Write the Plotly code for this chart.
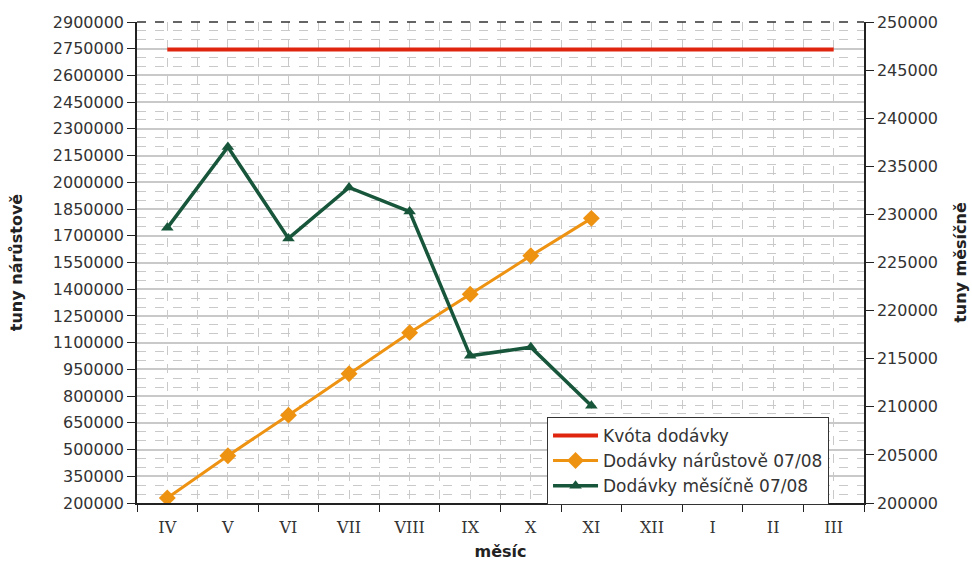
import plotly.graph_objects as go

# Months of the delivery year (April to March)
months = ["IV", "V", "VI", "VII", "VIII", "IX", "X", "XI", "XII", "I", "II", "III"]

# Delivery quota (tonnes), constant over the year
quota = [2745000] * 12

# Monthly deliveries 07/08 (tonnes), known up to November
monthly = [228600, 237000, 227500, 232800, 230300, 215300, 216200, 210100]

# Cumulative deliveries 07/08 (tonnes)
cumulative = []
total = 0
for v in monthly:
    total += v
    cumulative.append(total)

x_all = list(range(len(months)))
x_known = x_all[:len(monthly)]

RED = "#e0250f"
ORANGE = "#ee9212"
GREEN = "#17563a"
FONT = "DejaVu Sans"
TXT = "#333333"

fig = go.Figure()

fig.add_trace(go.Scatter(
    x=x_all, y=quota, name="Kvóta dodávky", mode="lines",
    line=dict(color=RED, width=4), yaxis="y",
))
fig.add_trace(go.Scatter(
    x=x_known, y=cumulative, name="Dodávky nárůstově 07/08", mode="lines+markers",
    line=dict(color=ORANGE, width=3),
    marker=dict(symbol="diamond", size=13, color=ORANGE), yaxis="y",
))
fig.add_trace(go.Scatter(
    x=x_known, y=monthly, name="Dodávky měsíčně 07/08", mode="lines+markers",
    line=dict(color=GREEN, width=3.5),
    marker=dict(symbol="triangle-up", size=11, color=GREEN), yaxis="y2",
))

grid = "#c9c9c9"

fig.update_layout(
    width=972, height=563,
    margin=dict(l=137, r=108, t=22, b=60),
    paper_bgcolor="white", plot_bgcolor="white",
    font=dict(family=FONT, size=16, color=TXT),
    showlegend=True,
    legend=dict(
        x=0.564, y=0.179, xanchor="left", yanchor="top",
        bgcolor="white", bordercolor="#333333", borderwidth=1,
        font=dict(family=FONT, size=17, color=TXT),
        tracegroupgap=0, itemwidth=45,
    ),
    xaxis=dict(
        range=[-0.5, 11.5], automargin=False,
        tickmode="array", tickvals=x_all, ticktext=months,
        ticks="outside", ticklen=9, tickcolor="rgba(0,0,0,0)",
        showline=True, linecolor="#222222", linewidth=1.5,
        showgrid=True, gridcolor=grid, griddash="dash", gridwidth=1,
        tickfont=dict(family="DejaVu Serif", size=16, color=TXT),
        title=dict(text="<b>měsíc</b>", font=dict(family=FONT, size=16, color="#222222"), standoff=10),
        minor=dict(tick0=0.5, dtick=1, ticks="outside", ticklen=7, tickcolor="#222222",
                   showgrid=True, gridcolor=grid, griddash="dash", gridwidth=1),
        zeroline=False,
    ),
    yaxis=dict(
        range=[200000, 2900000], tick0=200000, dtick=150000, automargin=False,
        showline=True, linecolor="#222222", linewidth=1.5,
        ticks="outside", ticklen=8, tickcolor="#222222",
        showgrid=True, gridcolor=grid, gridwidth=1.5,
        minor=dict(dtick=50000, tick0=200000, showgrid=True, gridcolor=grid, griddash="dash", gridwidth=1),
        tickformat="d",
        title=dict(text="<b>tuny nárůstově</b>", font=dict(family=FONT, size=16, color="#222222"), standoff=26),
        zeroline=False,
    ),
    yaxis2=dict(
        range=[200000, 250000], tick0=200000, dtick=5000, automargin=False,
        overlaying="y", side="right",
        showline=True, linecolor="#222222", linewidth=1.5,
        ticks="outside", ticklen=8, tickcolor="#222222",
        showgrid=False, tickformat="d",
        title=dict(text="<b>tuny měsíčně</b>", font=dict(family=FONT, size=16, color="#222222"), standoff=18),
        zeroline=False,
    ),
)

# Dashed frame line along the top of the plot area
fig.add_shape(type="line", xref="paper", yref="paper", x0=0, x1=1, y0=1, y1=1,
              line=dict(color="#333333", width=1.5, dash="dash"))

fig.write_html("out.html")
